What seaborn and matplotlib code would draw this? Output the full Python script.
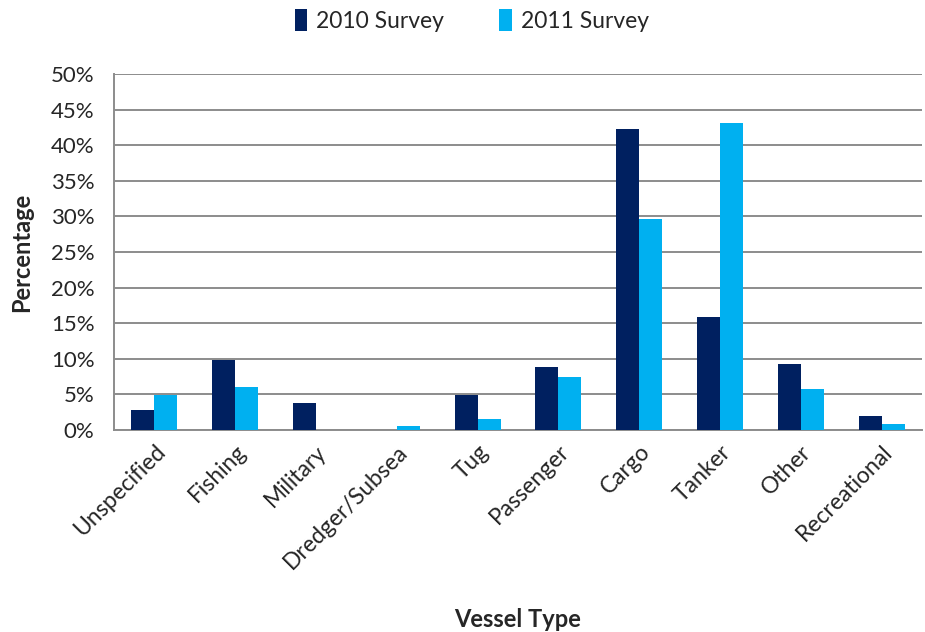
import matplotlib
matplotlib.use("Agg")
import matplotlib.pyplot as plt
from matplotlib.ticker import FuncFormatter, MultipleLocator, FixedLocator
import seaborn as sns
import pandas as pd

# Vessel type shares (percent)
vessel_types = ["Unspecified", "Fishing", "Military", "Dredger/Subsea", "Tug",
                "Passenger", "Cargo", "Tanker", "Other", "Recreational"]
survey_2010 = [2.8, 9.9, 3.8, 0.0, 4.9, 8.8, 42.3, 15.9, 9.3, 2.0]
survey_2011 = [4.9, 6.0, 0.0, 0.6, 1.5, 7.4, 29.6, 43.1, 5.7, 0.9]
series_names = ["2010 Survey", "2011 Survey"]
colors = ["#002060", "#00B0F0"]

df = pd.DataFrame({
    "Vessel Type": vessel_types * 2,
    "Percentage": survey_2010 + survey_2011,
    "Survey": [series_names[0]] * len(vessel_types) + [series_names[1]] * len(vessel_types),
})

sns.set_style("white")
plt.rcParams["font.family"] = ["Lato", "DejaVu Sans"]

fig = plt.figure(figsize=(9.25, 6.32), dpi=100)
ax = fig.add_axes([0.1232, 0.3196, 0.8735, 0.5633])

sns.barplot(data=df, x="Vessel Type", y="Percentage", hue="Survey",
            palette=colors, width=0.57, gap=0, saturation=1,
            linewidth=0, ax=ax, zorder=3)

ax.set_ylim(0, 50)
ax.set_xlim(-0.5, len(vessel_types) - 0.5)
ax.yaxis.set_major_locator(MultipleLocator(5))
ax.yaxis.set_major_formatter(FuncFormatter(lambda v, p: f"{v:.0f}%"))
ax.grid(axis="y", color="#8c8c8c", linewidth=1.4, zorder=0)
ax.set_axisbelow(True)

# category ticks sit between the groups, like Excel
ax.xaxis.set_minor_locator(FixedLocator([i - 0.5 for i in range(len(vessel_types) + 1)]))
ax.tick_params(axis="x", which="major", length=0, pad=8)
ax.tick_params(axis="x", which="minor", length=8, width=1.4, color="#8c8c8c")
ax.tick_params(axis="y", length=8, width=1.4, color="#8c8c8c", pad=6)
plt.setp(ax.get_xticklabels(), rotation=45, ha="right", rotation_mode="anchor",
         fontsize=16.5, color="#262626")
plt.setp(ax.get_yticklabels(), fontsize=16, color="#262626")

for side in ["top", "right"]:
    ax.spines[side].set_visible(False)
for side in ["left", "bottom"]:
    ax.spines[side].set_color("#8c8c8c")
    ax.spines[side].set_linewidth(1.4)

ax.set_xlabel("Vessel Type", fontsize=17, fontweight="bold")
ax.set_ylabel("Percentage", fontsize=17, fontweight="bold")
ax.xaxis.set_label_coords(0.5, -0.5)
ax.yaxis.set_label_coords(-0.1, 0.5)

handles, labels = ax.get_legend_handles_labels()
ax.legend_.remove()
fig.legend(handles, labels, loc="center", bbox_to_anchor=(0.51, 0.968), ncol=2,
           frameon=False, fontsize=16.5, handlelength=0.55, handleheight=1.1,
           columnspacing=2.4, handletextpad=0.4)

fig.savefig("out.png", dpi=100)
